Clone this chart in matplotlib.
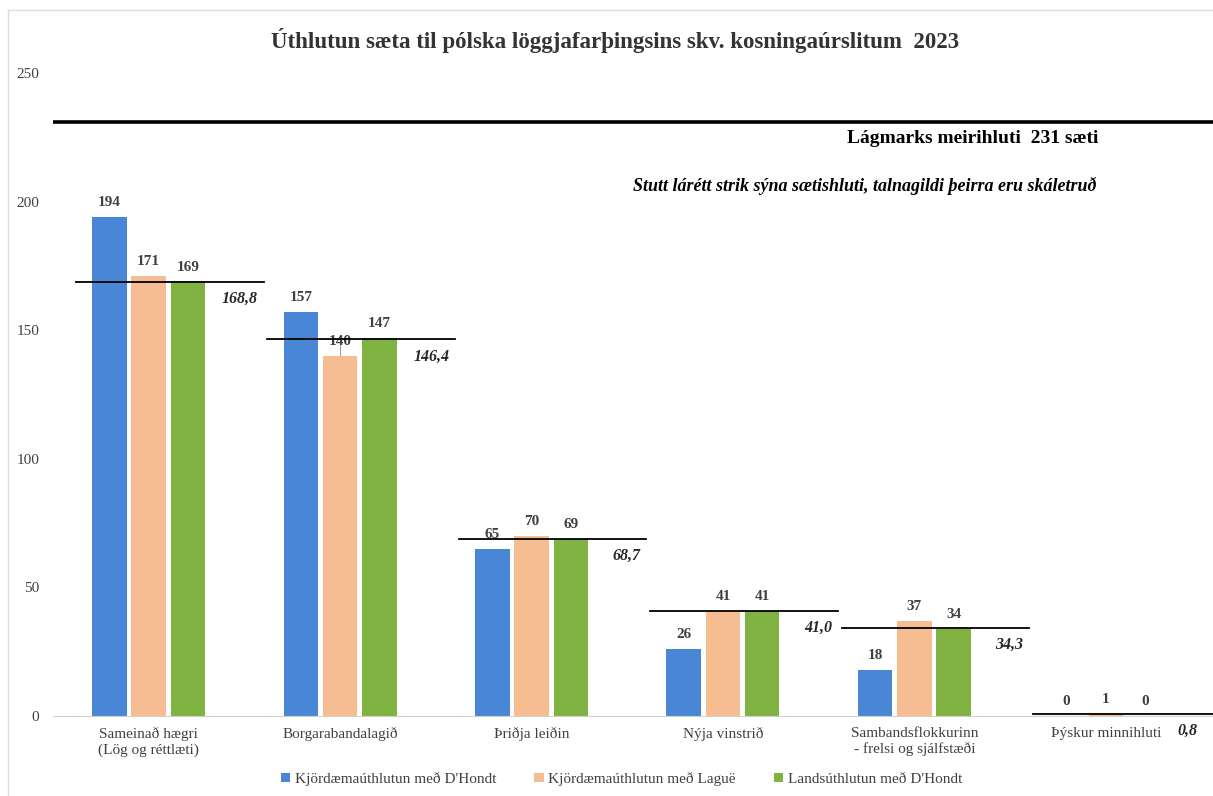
import matplotlib.pyplot as plt
from matplotlib.lines import Line2D
import numpy as np

# data
flokkar = ["Sameinað hægri\n(Lög og réttlæti)", "Borgarabandalagið", "Þriðja leiðin",
           "Nýja vinstrið", "Sambandsflokkurinn\n- frelsi og sjálfstæði", "Þýskur minnihluti"]
dhondt_kjord = [194, 157, 65, 26, 18, 0]
lague_kjord = [171, 140, 70, 41, 37, 1]
dhondt_lands = [169, 147, 69, 41, 34, 0]
saetishlutar = [168.8, 146.4, 68.7, 41.0, 34.3, 0.8]
meirihluti = 231
reidir = ["Kjördæmaúthlutun með D'Hondt", "Kjördæmaúthlutun með Laguë", "Landsúthlutun með D'Hondt"]
litir = ['#4a86d6', '#f7bd92', '#80b241']

plt.rcParams['font.family'] = ['Liberation Serif', 'DejaVu Serif']

fig = plt.figure(figsize=(12.13, 7.96), dpi=100)
ax = fig.add_axes([53 / 1213, 0.1005, 1 - 53 / 1213, 0.8078])

x = np.arange(len(flokkar))
w = 0.18
gap = 0.205
series = [dhondt_kjord, lague_kjord, dhondt_lands]
for i, vals in enumerate(series):
    pos = x + (i - 1) * gap
    ax.bar(pos, vals, w, color=litir[i], label=reidir[i], zorder=2)
    for p, v in zip(pos, vals):
        ax.text(p, v + 3, str(v), ha='center', va='bottom', fontsize=11,
                fontweight='bold', color='#404040')

# thin line from 140 bar up to share line (as in original)
ax.vlines(x[1], lague_kjord[1], saetishlutar[1], color='#a0a0a0', lw=0.8, zorder=1)

# seat share short lines
for xi, s in zip(x, saetishlutar):
    ax.plot([xi - 0.38, xi + 0.6], [s, s], color='black', lw=1.3, zorder=3)
    ax.text(min(xi + 0.57, 5.48), s - 3.5, f"{s:.1f}".replace('.', ','), ha='right', va='top',
            fontsize=11.5, fontweight='bold', style='italic', color='#262626')

# majority line
ax.axhline(meirihluti, color='black', lw=2.6, zorder=3)
ax.text(4.96, 224.5, "Lágmarks meirihluti  231 sæti", ha='right', va='center',
        fontsize=14, fontweight='bold', color='black')
ax.text(4.95, 206, "Stutt lárétt strik sýna sætishluti, talnagildi þeirra eru skáletruð",
        ha='right', va='center', fontsize=13, fontweight='bold', style='italic', color='black')

ax.set_xlim(-0.5, 5.56)
ax.set_ylim(0, 250)
ax.set_yticks([0, 50, 100, 150, 200, 250])
ax.set_xticks(x)
ax.set_xticklabels(flokkar, fontsize=11, color='#404040')
ax.tick_params(axis='both', length=0, colors='#404040', labelsize=11)
ax.tick_params(axis='y', pad=10)
ax.tick_params(axis='x', pad=8)
for sp in ['top', 'right', 'left']:
    ax.spines[sp].set_visible(False)
ax.spines['bottom'].set_color('#d0d0d0')

fig.suptitle("Úthlutun sæta til pólska löggjafarþingsins skv. kosningaúrslitum  2023",
             x=0.507, y=0.965, fontsize=16.5, fontweight='bold', color='#333333')

ax.legend(loc='center', bbox_to_anchor=(0.49, -0.098), ncol=3, frameon=False,
          fontsize=11, handlelength=0.6, handleheight=0.6, columnspacing=2.5,
          handletextpad=0.3, labelcolor='#404040')

# faint frame of the original screenshot
fig.add_artist(Line2D([8 / 1213, 8 / 1213], [0, 1 - 10 / 796], color='#dcdcdc', lw=1,
                      transform=fig.transFigure))
fig.add_artist(Line2D([8 / 1213, 1], [1 - 10 / 796, 1 - 10 / 796], color='#dcdcdc', lw=1,
                      transform=fig.transFigure))

fig.savefig('out.png', dpi=100)
